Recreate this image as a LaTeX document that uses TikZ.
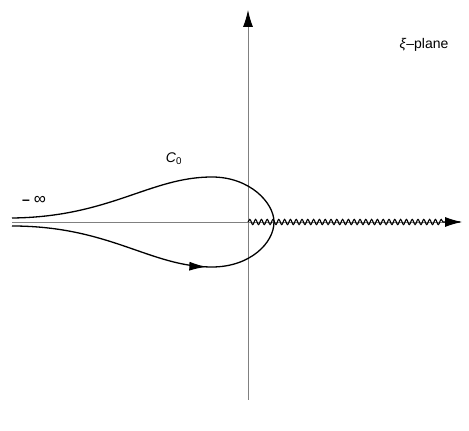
\documentclass[tikz,border=0pt]{standalone}
\usepackage{fontspec}
\setmainfont{Liberation Sans}
\usetikzlibrary{arrows.meta,decorations.pathmorphing,decorations.markings}

\begin{document}
\begin{tikzpicture}[x=1pt,y=1pt, every node/.style={font=\fontsize{14}{16}\selectfont},
    axis/.style={gray, line width=0.9pt, -{Latex[black,length=17pt,width=10pt]}},
    contour/.style={black, line width=1.3pt}]
  \useasboundingbox (0,0) rectangle (469,431);
  % axes
  \draw[axis] (12,209) -- (462,209);
  \draw[axis] (248,31) -- (248,421);
  % branch cut
  \draw[black, line width=1.1pt, decorate, decoration={snake, segment length=5.8pt, amplitude=2.6pt, post length=16pt}]
    (248,209) -- (460,209);
  % contour C_0
  \draw[contour, postaction={decorate}, decoration={markings,
      mark=at position 0.345 with {\arrow{Latex[length=17pt,width=9pt]}}}]
    (12,205) .. controls (110,205) and (150,164) .. (212,164)
    .. controls (250,164) and (274,188) .. (274,209)
    .. controls (274,228) and (250,254) .. (212,254)
    .. controls (150,254) and (110,214) .. (12,213);
  % labels
  \node (minf) at (34,231) {\textbf{–}\;{\fontsize{17}{18}\selectfont ∞}};
  \node (c0) at (174,272) {\textit{C}\textsubscript{0}};
  \node (plane) at (424,386) {\textit{ξ}–plane};
\end{tikzpicture}
\end{document}
